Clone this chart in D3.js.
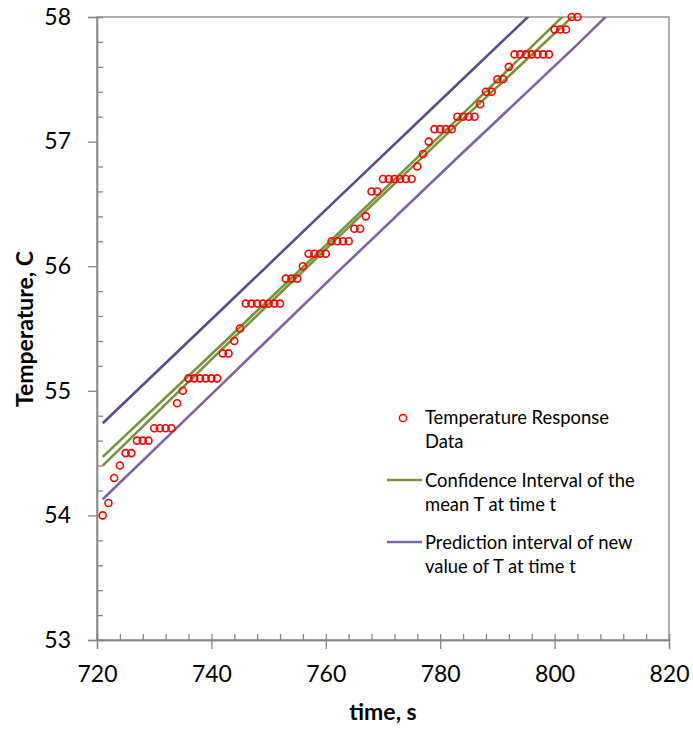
<!DOCTYPE html>
<html><head><meta charset="utf-8">
<script src="https://cdn.jsdelivr.net/npm/d3@7"></script>
<style>body{margin:0;background:#fff}</style>
</head><body>
<svg id="c" width="693" height="729"></svg>
<script>
// ---- data ----
const times = [721,722,723,724,725,726,727,728,729,730,731,732,733,734,735,736,737,738,739,740,
  741,742,743,744,745,746,747,748,749,750,751,752,753,754,755,756,757,758,759,760,
  761,762,763,764,765,766,767,768,769,770,771,772,773,774,775,776,777,778,779,780,
  781,782,783,784,785,786,787,788,789,790,791,792,793,794,795,796,797,798,799,800,
  801,802,803,804];
const temps = [54.0,54.1,54.3,54.4,54.5,54.5,54.6,54.6,54.6,54.7,54.7,54.7,54.7,54.9,55.0,55.1,55.1,55.1,55.1,55.1,
  55.1,55.3,55.3,55.4,55.5,55.7,55.7,55.7,55.7,55.7,55.7,55.7,55.9,55.9,55.9,56.0,56.1,56.1,56.1,56.1,
  56.2,56.2,56.2,56.2,56.3,56.3,56.4,56.6,56.6,56.7,56.7,56.7,56.7,56.7,56.7,56.8,56.9,57.0,57.1,57.1,
  57.1,57.1,57.2,57.2,57.2,57.2,57.3,57.4,57.4,57.5,57.5,57.6,57.7,57.7,57.7,57.7,57.7,57.7,57.7,57.9,
  57.9,57.9,58.0,58.0];
const bandTimes = [721,742,762,783,804,812];
const ciUpper = [54.47,55.38,56.255,57.18,58.12,58.48];
const ciLower = [54.40,55.34,56.225,57.14,58.04,58.40];
const piUpper = [54.74,55.66,56.54,57.46,58.38,58.74];
const piLower = [54.13,55.06,55.95,56.87,57.78,58.14];
const xTicks = [720,740,760,780,800,820];
const xMinor = [724,728,732,736,744,748,752,756,764,768,772,776,784,788,792,796,804,808,812,816];
const yTicks = [53,54,55,56,57,58];
const yMinor = [53.2,53.4,53.6,53.8,54.2,54.4,54.6,54.8,55.2,55.4,55.6,55.8,56.2,56.4,56.6,56.8,57.2,57.4,57.6,57.8];
const xTitle = "time, s";
const yTitle = "Temperature, C";
const legendLabels = [["Temperature Response","Data"],["Confidence Interval of the","mean T at time t"],["Prediction interval of new","value of T at time t"]];

// ---- drawing ----
const svg = d3.select("#c");
const L = 97, R = 669, T = 17, B = 640;
const x = d3.scaleLinear().domain([720,820]).range([L,R]);
const y = d3.scaleLinear().domain([53,58]).range([B,T]);
const axisCol = "#868686";
const font = "Lato, 'Liberation Sans', sans-serif";

svg.append("defs").append("clipPath").attr("id","pc")
  .append("rect").attr("x",L).attr("y",T).attr("width",R-L).attr("height",B-T);

// frame
svg.append("rect").attr("x",L).attr("y",T).attr("width",R-L).attr("height",B-T)
  .attr("fill","none").attr("stroke",axisCol).attr("stroke-width",1.3);

function styleAxis(g){
  g.select(".domain").attr("stroke",axisCol).attr("stroke-width",1.3);
  g.selectAll(".tick line").attr("stroke",axisCol).attr("stroke-width",1.3);
  g.selectAll(".tick text").attr("font-family",font).attr("font-size",23).attr("fill","#000");
}
// x axis
const gx = svg.append("g").attr("transform",`translate(0,${B})`)
  .call(d3.axisBottom(x).tickValues(xTicks).tickSize(9).tickPadding(17).tickFormat(d3.format("d")));
styleAxis(gx);
const gxm = svg.append("g").attr("transform",`translate(0,${B})`)
  .call(d3.axisBottom(x).tickValues(xMinor.concat(xTicks)).tickSize(-6).tickFormat(""));
styleAxis(gxm);
// y axis
const gy = svg.append("g").attr("transform",`translate(${L},0)`)
  .call(d3.axisLeft(y).tickValues(yTicks).tickSize(9).tickPadding(17).tickFormat(d3.format("d")));
styleAxis(gy);
const gym = svg.append("g").attr("transform",`translate(${L},0)`)
  .call(d3.axisLeft(y).tickValues(yMinor).tickSize(-6).tickFormat(""));
styleAxis(gym);

// lines
const plot = svg.append("g").attr("clip-path","url(#pc)");
const line = d3.line().x((d,i)=>x(bandTimes[i])).y(d=>y(d));
const series = [
  {v:piUpper, c:"#5d4b88"},
  {v:piLower, c:"#8064a2"},
  {v:ciUpper, c:"#77933c"},
  {v:ciLower, c:"#77933c"}
];
series.forEach(s=>{
  plot.append("path").attr("d",line(s.v)).attr("fill","none")
    .attr("stroke",s.c).attr("stroke-width",2.6);
});
// points
svg.append("g").selectAll("circle").data(temps).join("circle")
  .attr("cx",(d,i)=>x(times[i])).attr("cy",d=>y(d)).attr("r",3.5)
  .attr("fill","none").attr("stroke","#ff0000").attr("stroke-width",1.6);

// titles
svg.append("text").attr("x",383).attr("y",720).attr("text-anchor","middle")
  .attr("font-family",font).attr("font-weight","bold").attr("font-size",23).text(xTitle);
svg.append("text").attr("transform","translate(33,329) rotate(-90)").attr("text-anchor","middle")
  .attr("font-family",font).attr("font-weight","bold").attr("font-size",23).text(yTitle);

// legend
const lg = svg.append("g").attr("font-family",font).attr("font-size",18.4).attr("fill","#000");
lg.append("circle").attr("cx",403).attr("cy",418).attr("r",3.6)
  .attr("fill","none").attr("stroke","#ff0000").attr("stroke-width",1.5);
lg.append("line").attr("x1",387).attr("x2",422).attr("y1",480).attr("y2",480)
  .attr("stroke","#77933c").attr("stroke-width",2.6);
lg.append("line").attr("x1",387).attr("x2",422).attr("y1",542).attr("y2",542)
  .attr("stroke","#8064a2").attr("stroke-width",2.6);
const baselines = [[424,448],[487,511],[549,573]];
legendLabels.forEach((lines,i)=>{
  lines.forEach((t,j)=>{
    lg.append("text").attr("x",425).attr("y",baselines[i][j]).text(t);
  });
});
</script>
</body></html>
